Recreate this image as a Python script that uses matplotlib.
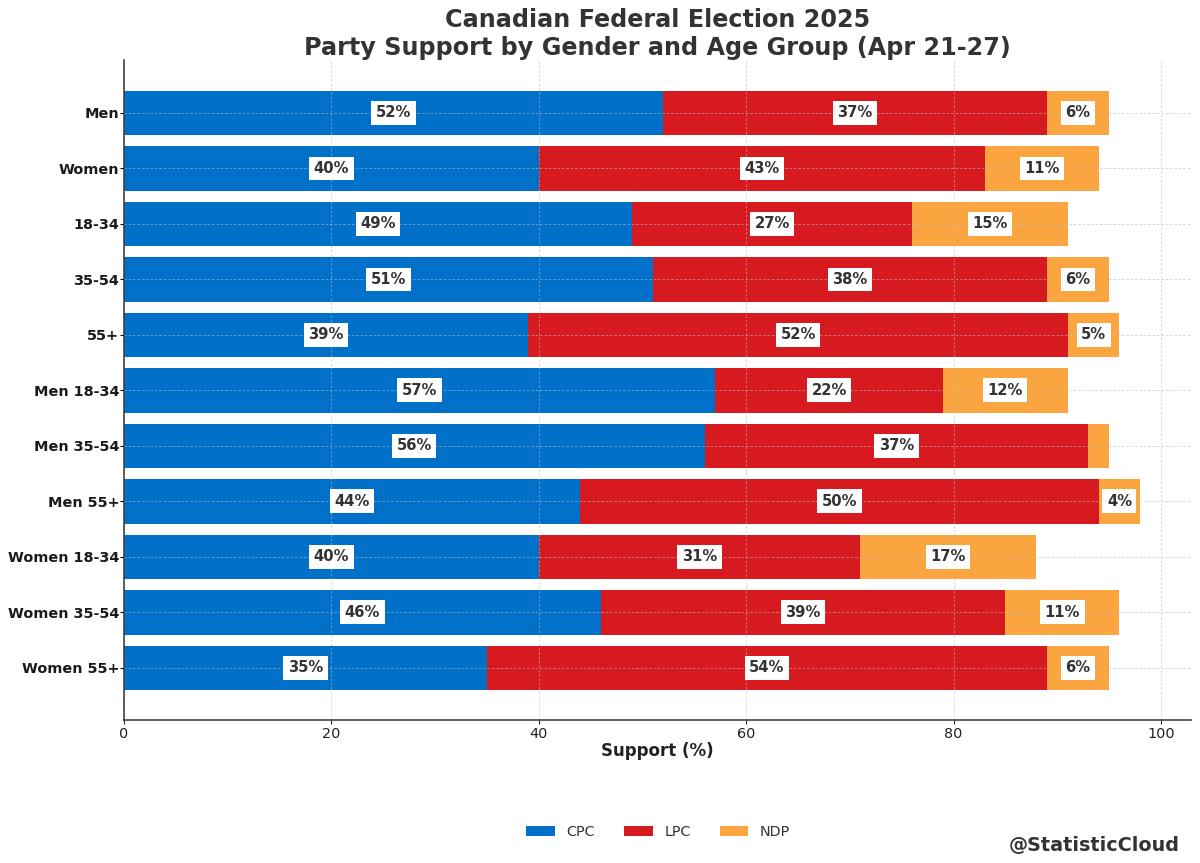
import numpy as np
from matplotlib import pyplot as plt

groups = ["Men", "Women", "18-34", "35-54", "55+", "Men 18-34", "Men 35-54",
          "Men 55+", "Women 18-34", "Women 35-54", "Women 55+"]
cpc = [52, 40, 49, 51, 39, 57, 56, 44, 40, 46, 35]
lpc = [37, 43, 27, 38, 52, 22, 37, 50, 31, 39, 54]
ndp = [6, 11, 15, 6, 5, 12, 2, 4, 17, 11, 6]
party_names = ["CPC", "LPC", "NDP"]
party_colors = ["#0070c8", "#d71a20", "#fba541"]
title = "Canadian Federal Election 2025\nParty Support by Gender and Age Group (Apr 21-27)"


def main():
    fig = plt.figure(figsize=(12, 8.63), dpi=100)
    ax = fig.add_axes([124 / 1200, 1 - 720 / 863, (1191 - 124) / 1200, (720 - 60) / 863])

    y = np.arange(len(groups))
    left = np.zeros(len(groups))
    for values, name, color in zip([cpc, lpc, ndp], party_names, party_colors):
        bars = ax.barh(y, values, left=left, height=0.8, color=color, label=name, zorder=2)
        for bar, value in zip(bars, values):
            # the narrow slices don't get a label
            if value < 4:
                continue
            ax.text(bar.get_x() + bar.get_width() / 2, bar.get_y() + bar.get_height() / 2,
                    "{}%".format(value), ha="center", va="center", fontsize=10.6, fontweight="bold",
                    color="#333333", zorder=4,
                    bbox=dict(facecolor="white", edgecolor="none", pad=3.2))
        left += np.array(values)

    ax.set_xlim(0, 102.9)
    ax.set_ylim(10.94, -0.955)
    ax.set_yticks(y)
    ax.set_yticklabels(groups, fontsize=10.4, fontweight="bold", color="#1a1a1a")
    ax.set_xticks([0, 20, 40, 60, 80, 100])
    ax.tick_params(axis="x", labelsize=10.4, colors="#222222", length=3, pad=2)
    ax.tick_params(axis="y", length=3, pad=0.5)
    ax.set_xlabel("Support (%)", fontsize=12, fontweight="bold", color="#222222", labelpad=1)
    ax.set_title(title, fontsize=17.2, fontweight="bold", color="#333333", pad=3)
    ax.grid(True, linestyle=(0, (2.5, 2)), linewidth=0.7, color="#bbbbbb", alpha=0.6, zorder=3)
    ax.set_axisbelow(False)
    ax.spines["top"].set_visible(False)
    ax.spines["right"].set_visible(False)
    for side in ["left", "bottom"]:
        ax.spines[side].set_zorder(5)
        ax.spines[side].set_color("#333333")
        ax.spines[side].set_linewidth(1.1)

    handles, labels = ax.get_legend_handles_labels()
    fig.legend(handles, labels, loc="center", bbox_to_anchor=(658 / 1200, 1 - 832 / 863), ncol=3,
               frameon=False, fontsize=10.4, labelcolor="#333333")
    fig.text(1180 / 1200, 1 - 845 / 863, "@StatisticCloud", ha="right", va="center", fontsize=13.8,
             fontweight="bold", color="#333333")

    fig.savefig("out.png", dpi=100)


if __name__ == '__main__':
    main()
